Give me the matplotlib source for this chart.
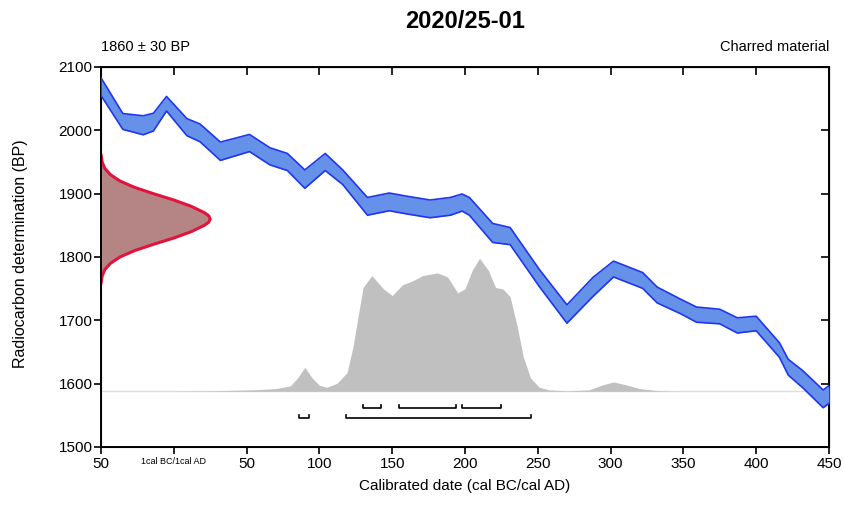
import matplotlib
matplotlib.use("Agg")
import matplotlib.pyplot as plt
from matplotlib import font_manager

# ---------------- data ----------------
title = "2020/25-01"
date_label = "1860 ± 30 BP"
material_label = "Charred material"
x_label = "Calibrated date (cal BC/cal AD)"
y_label = "Radiocarbon determination (BP)"

x_ticks = [-50, 0, 50, 100, 150, 200, 250, 300, 350, 400, 450]
x_tick_labels = ["50", "1cal BC/1cal AD", "50", "100", "150", "200", "250", "300", "350", "400", "450"]
y_ticks = [1500, 1600, 1700, 1800, 1900, 2000, 2100]

# calibration curve (year, centre BP, half width BP)
curve_year = [-50, -35, -21, -14, -5, 9, 18, 32, 52, 66, 78, 90, 104, 116, 133, 148, 160, 176,
              190, 198, 203, 219, 231, 251, 270, 288, 302, 322, 332, 348, 359, 375, 387, 400,
              416, 422, 432, 446, 450]
curve_bp = [2069, 2014, 2008, 2013, 2042, 2005, 1996, 1967, 1980, 1959, 1950, 1923, 1950, 1926,
            1880, 1887, 1882, 1876, 1880, 1886, 1880, 1838, 1833, 1767, 1710, 1753, 1781, 1763,
            1740, 1722, 1709, 1706, 1692, 1695, 1653, 1626, 1607, 1576, 1583]
curve_hw = [14, 12.5, 15, 14, 11.5, 13.5, 14, 14.5, 13.5, 13.5, 13.5, 14.5, 13.5, 11.5, 14, 14, 14, 14,
            14, 13.5, 14, 15, 13.5, 13.5, 14.5, 15, 12.5, 12.5, 12.5, 11.5, 12, 11.5, 12, 11.5,
            11.5, 12.5, 13.5, 14, 14]

# radiocarbon measurement profile (BP, width in years)
meas_bp = [1962, 1950, 1940, 1930, 1920, 1910, 1900, 1890, 1880, 1870, 1865, 1860, 1855, 1850,
           1840, 1830, 1820, 1810, 1800, 1790, 1780, 1770, 1758]
meas_w = [0.0, 0.8, 2.6, 6.5, 13, 23, 36, 50, 62, 71, 74, 75, 74, 71,
          62, 50, 36, 23, 13, 6.5, 2.6, 0.8, 0.0]

# posterior (calibrated) probability, relative
prob_year = [-50, 0, 25, 57, 70, 80, 85, 90, 95, 100, 105, 112, 119, 123, 127, 130, 136, 144,
             150, 157, 164, 171, 181, 188, 195, 200, 205, 210, 216, 221, 226, 231, 236, 240,
             245, 251, 258, 270, 285, 295, 302, 310, 320, 332, 345, 450]
prob_val = [0, 0, 0.003, 0.012, 0.02, 0.04, 0.1, 0.18, 0.1, 0.045, 0.03, 0.06, 0.14, 0.33, 0.59,
            0.78, 0.87, 0.77, 0.72, 0.80, 0.83, 0.87, 0.89, 0.86, 0.74, 0.77, 0.91, 1.0, 0.91,
            0.78, 0.77, 0.71, 0.48, 0.26, 0.1, 0.03, 0.01, 0.003, 0.01, 0.05, 0.07, 0.05, 0.02,
            0.005, 0, 0]

# ranges: 68.2% and 95.4%
range68 = [(130, 142), (155, 194), (198, 225)]
range95 = [(86, 93), (118, 245)]
range68_bp = 1562
range95_bp = 1546

# ---------------- style ----------------
avail = {f.name for f in font_manager.fontManager.ttflist}
fam = [f for f in ["Liberation Sans Narrow", "Liberation Sans", "DejaVu Sans"] if f in avail]
plt.rcParams["font.family"] = fam

fig = plt.figure(figsize=(8.44, 5.07), dpi=100)
ax = fig.add_axes([101 / 844, 1 - 447 / 507, 728 / 844, 380 / 507])

band_fill = "#6592e8"
band_edge = "#1f35f0"

upper = [c + h for c, h in zip(curve_bp, curve_hw)]
lower = [c - h for c, h in zip(curve_bp, curve_hw)]
ax.fill_between(curve_year, lower, upper, color=band_fill, lw=0, zorder=3)
ax.plot(curve_year, upper, color=band_edge, lw=1.2, zorder=4)
ax.plot(curve_year, lower, color=band_edge, lw=1.2, zorder=4)

# measurement distribution on left
x0 = x_ticks[0]
mx = [x0 + w for w in meas_w]
ax.fill_betweenx(meas_bp, x0, mx, color="#b58585", lw=0, zorder=2)
ax.plot(mx, meas_bp, color="#e0143c", lw=2.2, zorder=2.5, solid_capstyle="round")

# ranges
for (a, b) in range68:
    ax.plot([a, a, b, b], [range68_bp + 5, range68_bp, range68_bp, range68_bp + 5],
            color="black", lw=1.2, zorder=5)
for (a, b) in range95:
    ax.plot([a, a, b, b], [range95_bp + 5, range95_bp, range95_bp, range95_bp + 5],
            color="black", lw=1.2, zorder=5)

ax.set_xlim(-50, 450)
ax.set_ylim(1500, 2100)
ax.set_xticks(x_ticks)
ax.set_xticklabels(x_tick_labels)
for lab in ax.get_xticklabels():
    lab.set_fontsize(11)
ax.get_xticklabels()[1].set_fontsize(6.5)
ax.set_yticks(y_ticks)
ax.tick_params(axis="y", labelsize=11, direction="out", length=5, width=1.2, pad=1)
ax.tick_params(axis="x", direction="out", length=5, width=1.2, pad=2)
for sp in ax.spines.values():
    sp.set_linewidth(1.4)

# inward ticks on top and right via secondary axes
sec_top = ax.secondary_xaxis("top")
sec_top.set_xticks(x_ticks)
sec_top.tick_params(direction="in", length=6, width=1.2, labeltop=False)
sec_right = ax.secondary_yaxis("right")
sec_right.set_yticks(y_ticks)
sec_right.tick_params(direction="in", length=6, width=1.2, labelright=False)

ax.set_xlabel(x_label, fontsize=11, labelpad=6)
ax.set_ylabel(y_label, fontsize=11.5)
ax.yaxis.set_label_coords(-0.1, 0.51)

# posterior on a twin scale
ax2 = ax.twinx()
ax2.set_ylim(-0.419, 2.438)
ax2.fill_between(prob_year, 0, prob_val, color="#c0c0c0", lw=0, zorder=1)
ax2.axhline(0, color="#dddddd", lw=1, zorder=0.5)
ax2.set_yticks([])
ax2.set_zorder(0)
ax.set_zorder(1)
ax.patch.set_visible(False)

fig.text(465 / 844, 1 - 22 / 507, title, ha="center", va="center", fontsize=17, fontweight="bold")
fig.text(101 / 844, 1 - 47 / 507, date_label, ha="left", va="center", fontsize=10.5)
fig.text(829 / 844, 1 - 47 / 507, material_label, ha="right", va="center", fontsize=10.5)

fig.savefig("out.png", dpi=100)
